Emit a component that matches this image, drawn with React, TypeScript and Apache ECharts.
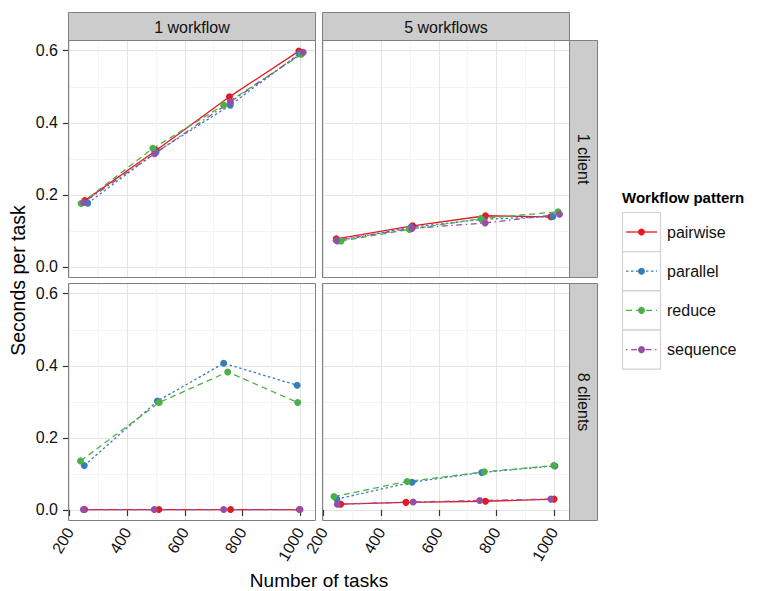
import React, { useEffect, useRef } from "react";
import * as echarts from "echarts";

// ---- data ----
const groups = ["pairwise", "parallel", "reduce", "sequence"];
const groupColors = ["#E41A1C", "#377EB8", "#4DAF4A", "#984EA3"];
const colTitles = ["1 workflow", "5 workflows"];
const rowTitles = ["1 client", "8 clients"];
const xTicks = [200, 400, 600, 800, 1000];
const yTicks = [0, 0.2, 0.4, 0.6];

// 1 workflow, 1 client  (rows: pairwise, parallel, reduce, sequence)
const w1c1Tasks = [
  [253, 501, 755, 996],
  [263, 500, 758, 998],
  [240, 489, 735, 1005],
  [249, 495, 758, 1011],
];
const w1c1Secs = [
  [0.184, 0.324, 0.472, 0.599],
  [0.177, 0.318, 0.449, 0.592],
  [0.176, 0.329, 0.449, 0.59],
  [0.179, 0.314, 0.458, 0.596],
];
// 5 workflows, 1 client
const w5c1Tasks = [
  [244, 509, 762, 989],
  [248, 503, 750, 996],
  [261, 498, 746, 1014],
  [244, 507, 761, 1019],
];
const w5c1Secs = [
  [0.078, 0.114, 0.142, 0.139],
  [0.072, 0.11, 0.132, 0.14],
  [0.072, 0.104, 0.134, 0.153],
  [0.074, 0.107, 0.122, 0.146],
];
// 1 workflow, 8 clients
const w1c8Tasks = [
  [252, 510, 759, 998],
  [251, 505, 735, 990],
  [238, 511, 749, 992],
  [248, 494, 735, 1000],
];
const w1c8Secs = [
  [0.001, 0.001, 0.001, 0.001],
  [0.123, 0.302, 0.407, 0.346],
  [0.136, 0.298, 0.383, 0.298],
  [0.001, 0.001, 0.001, 0.001],
];
// 5 workflows, 8 clients
const w5c8Tasks = [
  [259, 486, 762, 1000],
  [246, 507, 749, 1003],
  [236, 490, 758, 999],
  [248, 511, 742, 989],
];
const w5c8Secs = [
  [0.016, 0.021, 0.024, 0.03],
  [0.03, 0.077, 0.104, 0.122],
  [0.037, 0.079, 0.106, 0.123],
  [0.016, 0.022, 0.026, 0.03],
];

const panelData = [
  { col: 0, row: 0, tasks: w1c1Tasks, secs: w1c1Secs },
  { col: 1, row: 0, tasks: w5c1Tasks, secs: w5c1Secs },
  { col: 0, row: 1, tasks: w1c8Tasks, secs: w1c8Secs },
  { col: 1, row: 1, tasks: w5c8Tasks, secs: w5c8Secs },
];

// ---- layout / style ----
const FONT = '"Liberation Sans", Arial, Helvetica, sans-serif';
const PX = [69, 323];
const PY = [41, 284];
const PW = 246;
const PH = 236;
const dashes: any[] = ["solid", [2.5, 2.5], [6, 4], [1.5, 3.5, 6, 3.5]];

export default function App() {
  const ref = useRef<HTMLDivElement>(null);
  useEffect(() => {
    document.body.style.margin = "0";
    const chart = echarts.init(ref.current!, null, { renderer: "svg" });

    const grids: any[] = [];
    const xAxes: any[] = [];
    const yAxes: any[] = [];
    const series: any[] = [];
    const graphics: any[] = [];

    panelData.forEach((p, i) => {
      grids.push({ left: PX[p.col], top: PY[p.row], width: PW, height: PH, show: false });
      const bottom = p.row === 1;
      const left = p.col === 0;
      xAxes.push({
        type: "value",
        gridIndex: i,
        min: 198,
        max: 1052,
        splitNumber: 5,
        axisLine: { show: false },
        axisTick: {
          show: bottom,
          length: 6,
          customValues: xTicks,
          lineStyle: { color: "#333", width: 1.2 },
        },
        axisLabel: {
          show: bottom,
          customValues: xTicks,
          rotate: 60,
          margin: 9,
          fontSize: 16,
          fontFamily: FONT,
          color: "#111",
          formatter: (v: number) => String(Math.round(v)),
        },
        splitLine: { show: true, lineStyle: { color: "#e4e4e4", width: 1 } },
        minorTick: { show: false, splitNumber: 2 },
        minorSplitLine: { show: true, lineStyle: { color: "#f4f4f4", width: 1 } },
      });
      yAxes.push({
        type: "value",
        gridIndex: i,
        min: -0.028,
        max: 0.627,
        splitNumber: 3,
        axisLine: { show: false },
        axisTick: {
          show: left,
          length: 6,
          customValues: yTicks,
          lineStyle: { color: "#333", width: 1.2 },
        },
        axisLabel: {
          show: left,
          customValues: yTicks,
          margin: 11,
          fontSize: 16,
          fontFamily: FONT,
          color: "#111",
          formatter: (v: number) => v.toFixed(1),
        },
        splitLine: { show: true, lineStyle: { color: "#e4e4e4", width: 1 } },
        minorTick: { show: false, splitNumber: 2 },
        minorSplitLine: { show: true, lineStyle: { color: "#f4f4f4", width: 1 } },
      });
      groups.forEach((g, k) => {
        series.push({
          type: "line",
          name: g,
          xAxisIndex: i,
          yAxisIndex: i,
          data: p.tasks[k].map((x, j) => [x, p.secs[k][j]]),
          symbol: "none",
          showSymbol: false,
          silent: true,
          lineStyle: { color: groupColors[k], width: 1.3, type: dashes[k] },
          z: 2,
        });
      });
      groups.forEach((g, k) => {
        series.push({
          type: "scatter",
          name: g,
          xAxisIndex: i,
          yAxisIndex: i,
          data: p.tasks[k].map((x, j) => [x, p.secs[k][j]]),
          symbolSize: 7,
          silent: true,
          itemStyle: { color: groupColors[k], opacity: 1 },
          z: 3,
        });
      });
      // panel border
      graphics.push({
        type: "rect",
        shape: { x: PX[p.col] - 0.5, y: PY[p.row] - 0.5, width: PW + 1, height: PH + 1 },
        style: { fill: "none", stroke: "#808080", lineWidth: 1 },
        z: 10,
        silent: true,
      });
    });

    // top strips
    colTitles.forEach((t, c) => {
      graphics.push({
        type: "rect",
        shape: { x: PX[c] - 0.5, y: 12.5, width: PW + 1, height: 28 },
        style: { fill: "#cccccc", stroke: "#808080", lineWidth: 1 },
        silent: true,
      });
      graphics.push({
        type: "text",
        x: PX[c] + PW / 2,
        y: 27,
        style: {
          text: t,
          fontSize: 16,
          fontFamily: FONT,
          fill: "#111",
          align: "center",
          verticalAlign: "middle",
          textAlign: "center",
          textVerticalAlign: "middle",
        },
        silent: true,
      });
    });
    // right strips
    rowTitles.forEach((t, r) => {
      graphics.push({
        type: "rect",
        shape: { x: PX[1] + PW + 0.5, y: PY[r] - 0.5, width: 28, height: PH + 1 },
        style: { fill: "#cccccc", stroke: "#808080", lineWidth: 1 },
        silent: true,
      });
      graphics.push({
        type: "text",
        x: PX[1] + PW + 14.5,
        y: PY[r] + PH / 2,
        rotation: -Math.PI / 2,
        style: {
          text: t,
          fontSize: 16,
          fontFamily: FONT,
          fill: "#111",
          align: "center",
          verticalAlign: "middle",
          textAlign: "center",
          textVerticalAlign: "middle",
        },
        silent: true,
      });
    });
    // axis titles
    graphics.push({
      type: "text",
      x: 18,
      y: (PY[0] + PY[1] + PH) / 2,
      rotation: Math.PI / 2,
      style: {
        text: "Seconds per task",
        fontSize: 19.5,
        fontFamily: FONT,
        fill: "#000",
        align: "center",
        verticalAlign: "middle",
        textAlign: "center",
        textVerticalAlign: "middle",
      },
      silent: true,
    });
    graphics.push({
      type: "text",
      x: (PX[0] + PX[1] + PW) / 2,
      y: 580.5,
      style: {
        text: "Number of tasks",
        fontSize: 19,
        fontFamily: FONT,
        fill: "#000",
        align: "center",
        verticalAlign: "middle",
        textAlign: "center",
        textVerticalAlign: "middle",
      },
      silent: true,
    });
    // legend
    graphics.push({
      type: "text",
      x: 622,
      y: 197.5,
      style: {
        text: "Workflow pattern",
        fontSize: 15,
        fontWeight: "bold",
        fontFamily: FONT,
        fill: "#000",
        align: "left",
        verticalAlign: "middle",
        textAlign: "left",
        textVerticalAlign: "middle",
      },
      silent: true,
    });
    groups.forEach((g, k) => {
      const y0 = 212.5 + k * 39.2;
      const cy = y0 + 19.5;
      graphics.push({
        type: "rect",
        shape: { x: 622.5, y: y0, width: 38, height: 39 },
        style: { fill: "#fff", stroke: "#d4d4d4", lineWidth: 1.2 },
        silent: true,
      });
      graphics.push({
        type: "line",
        shape: { x1: 626, y1: cy, x2: 657, y2: cy },
        style: {
          stroke: groupColors[k],
          lineWidth: 1.3,
          lineDash: k === 0 ? null : dashes[k],
        },
        z: 5,
        silent: true,
      });
      graphics.push({
        type: "circle",
        shape: { cx: 641.5, cy, r: 3.5 },
        style: { fill: groupColors[k] },
        z: 6,
        silent: true,
      });
      graphics.push({
        type: "text",
        x: 667,
        y: cy,
        style: {
          text: g,
          fontSize: 16,
          fontFamily: FONT,
          fill: "#111",
          align: "left",
          verticalAlign: "middle",
          textAlign: "left",
          textVerticalAlign: "middle",
        },
        silent: true,
      });
    });

    chart.setOption({
      animation: false,
      backgroundColor: "#fff",
      grid: grids,
      xAxis: xAxes,
      yAxis: yAxes,
      series,
      graphic: { elements: graphics },
    });
    return () => chart.dispose();
  }, []);
  return (
    <div
      ref={ref}
      style={{ width: 761, height: 591, position: "fixed", left: 0, top: 0 }}
    />
  );
}
